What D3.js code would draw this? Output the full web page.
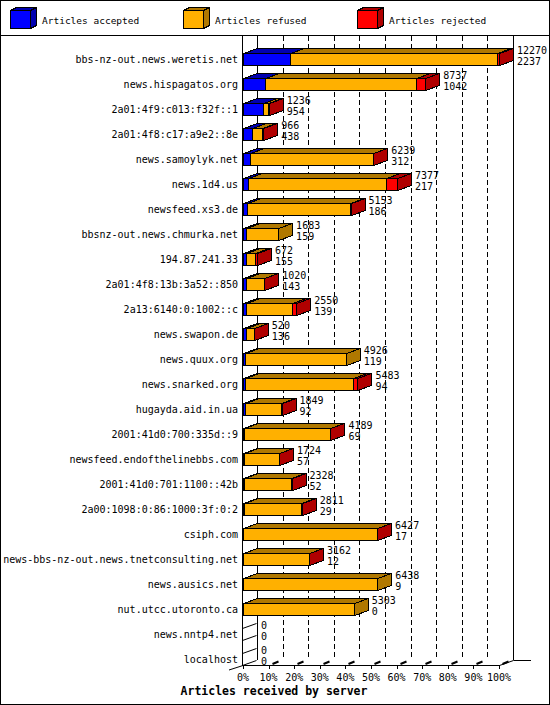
<!DOCTYPE html>
<html>
<head>
<meta charset="utf-8">
<script src="https://cdn.jsdelivr.net/npm/d3@7"></script>
<style>
body { margin: 0; background: #fff; }
text { font-family: "DejaVu Sans Mono", monospace; fill: #000; }
</style>
</head>
<body>
<script>
var servers = ['bbs-nz-out.news.weretis.net', 'news.hispagatos.org', '2a01:4f9:c013:f32f::1',
    '2a01:4f8:c17:a9e2::8e', 'news.samoylyk.net', 'news.1d4.us', 'newsfeed.xs3.de',
    'bbsnz-out.news.chmurka.net', '194.87.241.33', '2a01:4f8:13b:3a52::850', '2a13:6140:0:1002::c',
    'news.swapon.de', 'news.quux.org', 'news.snarked.org', 'hugayda.aid.in.ua',
    '2001:41d0:700:335d::9', 'newsfeed.endofthelinebbs.com', '2001:41d0:701:1100::42b',
    '2a00:1098:0:86:1000:3f:0:2', 'csiph.com', 'news-bbs-nz-out.news.tnetconsulting.net',
    'news.ausics.net', 'nut.utcc.utoronto.ca', 'news.nntp4.net', 'localhost'];
var offered = [12270, 8737, 1236, 966, 6239, 7377, 5153, 1683, 672, 1020, 2550, 520, 4926,
    5483, 1849, 4189, 1724, 2328, 2811, 6427, 3162, 6438, 5303, 0, 0];
var accepted = [2237, 1042, 954, 438, 312, 217, 186, 159, 155, 143, 139, 136, 119,
    94, 92, 69, 57, 52, 29, 17, 12, 9, 0, 0, 0];
var refused = [9943, 7245, 242, 468, 5912, 6640, 4947, 1524, 437, 857, 2211, 369, 4807,
    5169, 1727, 4110, 1647, 2266, 2772, 6400, 3145, 6429, 5303, 0, 0];
var rejected = [90, 450, 40, 60, 15, 520, 20, 0, 80, 20, 200, 15, 0,
    220, 30, 10, 20, 10, 10, 10, 5, 0, 0, 0, 0];
var seriesNames = ['Articles accepted', 'Articles refused', 'Articles rejected'];
var pctTicks = [0, 10, 20, 30, 40, 50, 60, 70, 80, 90, 100];

var frontColors = ['#0000ff', '#ffb000', '#ff0000'],
    darkColors = ['#0000b0', '#b07800', '#b00000'];

var w = 550,
    h = 705,
    dx = 14, dy = 5, barH = 12, //3d depth
    floorY = 665,
    top0 = 36;

var svg = d3.select('body').append('svg')
    .attr('width', w)
    .attr('height', h)
    .attr('shape-rendering', 'crispEdges');

var x = d3.scaleLinear().domain([0, d3.max(offered)]).range([243, 499]);
var pct = d3.scaleLinear().domain([0, 100]).range([243, 499]);
var y = d3.scalePoint().domain(servers).range([59, 659]);

function px(v) { return Math.round(v) + 0.5; }

function box(g, x0, x1, yc, front, dark, d) {
    d = d || dx;
    var ddy = d === dx ? dy : 3;
    var t = px(yc - barH / 2), b = px(yc + barH / 2);
    x0 = px(x0); x1 = px(x1);
    var faces = [
        [[x0, t], [x1, t], [x1, b], [x0, b]],
        [[x0, t], [x0 + d, t - ddy], [x1 + d, t - ddy], [x1, t]],
        [[x1, t], [x1 + d, t - ddy], [x1 + d, b - ddy], [x1, b]]
    ];
    var fills = [front, dark, dark];
    faces.forEach(function(f, i) {
        g.append('polygon')
            .attr('points', f.map(function(p) { return p.join(','); }).join(' '))
            .attr('fill', fills[i])
            .attr('stroke', '#000')
            .attr('stroke-width', 1);
    });
}

// frame
svg.append('rect').attr('x', 0.5).attr('y', 0.5).attr('width', w - 1).attr('height', h - 1)
    .attr('fill', 'none').attr('stroke', '#000');
svg.append('line').attr('x1', 0).attr('x2', w).attr('y1', 35.5).attr('y2', 35.5).attr('stroke', '#000');

// legend
var legX = [10, 183, 357];
seriesNames.forEach(function(s, i) {
    var lg = svg.append('g');
    var lb = lg.append('g');
    // legend box: front 20x18
    var t = 10.5, b = 28.5, x0 = legX[i] + 0.5, x1 = legX[i] + 20.5;
    [[[x0, t], [x1, t], [x1, b], [x0, b]],
     [[x0, t], [x0 + 6, t - 3], [x1 + 6, t - 3], [x1, t]],
     [[x1, t], [x1 + 6, t - 3], [x1 + 6, b - 3], [x1, b]]].forEach(function(f, j) {
        lb.append('polygon')
            .attr('points', f.map(function(p) { return p.join(','); }).join(' '))
            .attr('fill', j === 0 ? frontColors[i] : darkColors[i])
            .attr('stroke', '#000');
    });
    lg.append('text')
        .attr('x', legX[i] + 32)
        .attr('y', 20)
        .attr('dominant-baseline', 'central')
        .style('font-size', '9.5px')
        .text(s);
});

// back wall grid
var grid = svg.append('g');
pctTicks.forEach(function(p) {
    var gx = px(pct(p) + dx);
    grid.append('line')
        .attr('x1', gx).attr('x2', gx)
        .attr('y1', top0).attr('y2', floorY - dy)
        .attr('stroke', '#000')
        .attr('stroke-dasharray', (p === 0 || p === 100) ? null : '5,3');
});

// axes lines
svg.append('line').attr('x1', 242.5).attr('x2', 242.5).attr('y1', top0).attr('y2', floorY + 0.5).attr('stroke', '#000');
var fl = svg.append('g').attr('shape-rendering', 'auto');
fl.append('path')
    .attr('d', 'M229,' + (floorY + 5) + 'L243,' + (floorY + 0.5) + 'L499.5,' + (floorY + 0.5) +
        'L513.5,' + (floorY - dy + 0.5) + 'L531,' + (floorY - dy + 0.5))
    .attr('fill', 'none').attr('stroke', '#000');

// ticks on floor
pctTicks.forEach(function(p) {
    var tx = px(pct(p));
    fl.append('line').attr('x1', tx).attr('x2', tx).attr('y1', floorY).attr('y2', floorY + 4).attr('stroke', '#000');
    if (p > 0) {
        fl.append('line').attr('x1', tx + 3).attr('x2', tx + 9)
            .attr('y1', floorY - 1).attr('y2', floorY - 3.5)
            .attr('stroke', '#000').attr('stroke-width', 2);
    }
    svg.append('text')
        .attr('x', pct(p))
        .attr('y', 677)
        .attr('text-anchor', 'middle')
        .attr('dominant-baseline', 'central')
        .style('font-size', '10px')
        .text(p + '%');
});

// bars
var bars = svg.append('g');
servers.forEach(function(s, i) {
    var yc = y(s);
    var vals = [accepted[i], refused[i], rejected[i]];
    var g = bars.append('g');
    if (offered[i] === 0) {
        var t = px(yc - barH / 2), b = px(yc + barH / 2), x0 = 242.5;
        g.append('path')
            .attr('d', 'M' + x0 + ',' + t + 'L' + (x0 + dx) + ',' + (t - dy) +
                'M' + x0 + ',' + b + 'L' + (x0 + dx) + ',' + (b - dy))
            .attr('fill', 'none').attr('stroke', '#000').attr('shape-rendering', 'auto');
    } else {
        var acc = 0;
        vals.forEach(function(v, j) {
            if (v <= 0) return;
            box(g, x(acc), x(acc + v), yc, frontColors[j], darkColors[j]);
            acc += v;
        });
    }
    svg.append('text')
        .attr('x', 238)
        .attr('y', yc)
        .attr('text-anchor', 'end')
        .attr('dominant-baseline', 'central')
        .style('font-size', '10px')
        .text(s);
    var lx = x(offered[i]) + dx + 4;
    svg.append('text').attr('x', lx).attr('y', yc - 9)
        .attr('dominant-baseline', 'central').style('font-size', '10px').text(offered[i]);
    svg.append('text').attr('x', lx).attr('y', yc + 2)
        .attr('dominant-baseline', 'central').style('font-size', '10px').text(accepted[i]);
});

// title
svg.append('text')
    .attr('x', 274)
    .attr('y', 691)
    .attr('text-anchor', 'middle')
    .attr('dominant-baseline', 'central')
    .style('font-size', '11.5px')
    .style('font-weight', 'bold')
    .text('Articles received by server');
</script>
</body>
</html>
